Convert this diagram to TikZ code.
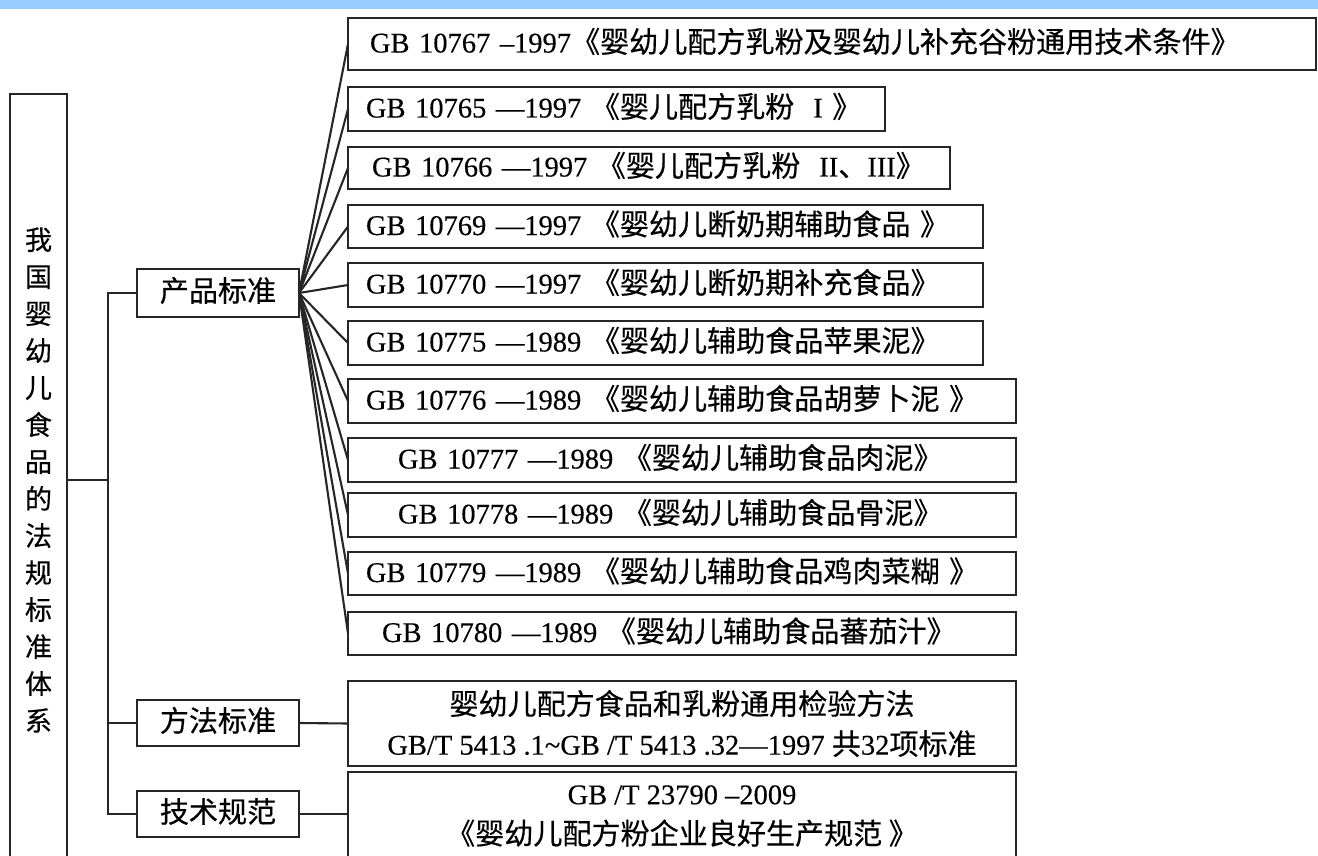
\documentclass[tikz,border=0pt]{standalone}
\usepackage{fontspec}
\setmainfont{Liberation Serif}[FakeBold=0.3]
\newfontfamily\cjk{Noto Sans CJK SC}[FakeBold=0.4,Scale=1.02]
\newcommand\zhs[1]{{\cjk #1}}
\definecolor{bandblue}{RGB}{153,204,255}
\tikzset{
  frame/.style={draw=black!85, line width=2.4pt, inner sep=0pt, outer sep=0pt,
    font=\fontsize{28.5}{40}\selectfont, text height=23pt, text depth=6pt},
  gbbox/.style={frame, anchor=west, align=left},
  catbox/.style={frame, minimum width=162pt},
  ln/.style={draw=black!85, line width=2.1pt}
}
\begin{document}
\begin{tikzpicture}[x=1pt,y=-1pt]
\useasboundingbox (0,0) rectangle (1318,856);
\clip (0,0) rectangle (1318,856);
\fill[white] (0,0) rectangle (1318,856);
\fill[bandblue] (0,0) rectangle (1318,9);

% root
\node[frame, minimum width=57pt, minimum height=772pt, align=center,
  font=\cjk\fontsize{26.5}{37}\selectfont, text height=, text depth=] (root) at (38.5,480)
  {我\\国\\婴\\幼\\儿\\食\\品\\的\\法\\规\\标\\准\\体\\系};

% categories
\node[catbox, minimum height=48pt] (prod) at (218,293) {\zhs{产品标准}};
\node[catbox, minimum height=46pt] (meth) at (218,723) {\zhs{方法标准}};
\node[catbox, minimum height=46pt] (tech) at (218,814) {\zhs{技术规范}};

% product standards
\node[gbbox, minimum height=52pt, text width=924pt, inner xsep=22pt] (b1) at (348,44)
  {GB 10767 –1997\zhs{《婴幼儿配方乳粉及婴幼儿补充谷粉通用技术条件》}};
\node[gbbox, minimum height=44pt, text width=501pt, inner xsep=18pt] (b2) at (348,109)
  {GB 10765 —1997 \zhs{《婴儿配方乳粉}\ \ I \zhs{》}};
\node[gbbox, minimum height=42pt, text width=554pt, inner xsep=24pt] (b3) at (348,168)
  {GB 10766 —1997 \zhs{《婴儿配方乳粉}\ \ II\zhs{、}III\zhs{》}};
\node[gbbox, minimum height=43pt, text width=599pt, inner xsep=18pt] (b4) at (348,226.5)
  {GB 10769 —1997 \zhs{《婴幼儿断奶期辅助食品 》}};
\node[gbbox, minimum height=44pt, text width=599pt, inner xsep=18pt] (b5) at (348,285)
  {GB 10770 —1997 \zhs{《婴幼儿断奶期补充食品》}};
\node[gbbox, minimum height=44pt, text width=599pt, inner xsep=18pt] (b6) at (348,343)
  {GB 10775 —1989 \zhs{《婴幼儿辅助食品苹果泥》}};
\node[gbbox, minimum height=44pt, text width=632pt, inner xsep=18pt] (b7) at (348,401)
  {GB 10776 —1989 \zhs{《婴幼儿辅助食品胡萝卜泥 》}};
\node[gbbox, minimum height=44pt, text width=568pt, inner xsep=50pt] (b8) at (348,460)
  {GB 10777 —1989 \zhs{《婴幼儿辅助食品肉泥》}};
\node[gbbox, minimum height=44pt, text width=568pt, inner xsep=50pt] (b9) at (348,515)
  {GB 10778 —1989 \zhs{《婴幼儿辅助食品骨泥》}};
\node[gbbox, minimum height=43pt, text width=632pt, inner xsep=18pt] (b10) at (348,573.5)
  {GB 10779 —1989 \zhs{《婴幼儿辅助食品鸡肉菜糊 》}};
\node[gbbox, minimum height=43pt, text width=600pt, inner xsep=34pt] (b11) at (348,633.5)
  {GB 10780 —1989 \zhs{《婴幼儿辅助食品蕃茄汁》}};

% method and technical
\node[frame, anchor=west, minimum width=668pt, minimum height=85pt, align=center,
  text height=, text depth=] (b12) at (348,723.5)
  {\zhs{婴幼儿配方食品和乳粉通用检验方法}\\GB/T 5413 .1\textasciitilde GB /T 5413 .32—1997 \zhs{共}32\zhs{项标准}};
\node[frame, anchor=west, minimum width=668pt, minimum height=88pt, align=center,
  text height=, text depth=] (b13) at (348,816)
  {GB /T 23790 –2009\\\zhs{《婴幼儿配方粉企业良好生产规范 》}};

% connectors
\coordinate (jt) at (108,480);
\draw[ln] (root.east) -- (jt);
\draw[ln] (prod.west) -| (jt) |- (tech.west);
\draw[ln] (jt |- meth.west) -- (meth.west);
\foreach \i in {1,...,11} \draw[ln] (prod.east) -- (b\i.west);
\draw[ln] (meth.east) -- (b12.west);
\draw[ln] (tech.east) -- (tech.east -| b13.west);
\end{tikzpicture}
\end{document}
